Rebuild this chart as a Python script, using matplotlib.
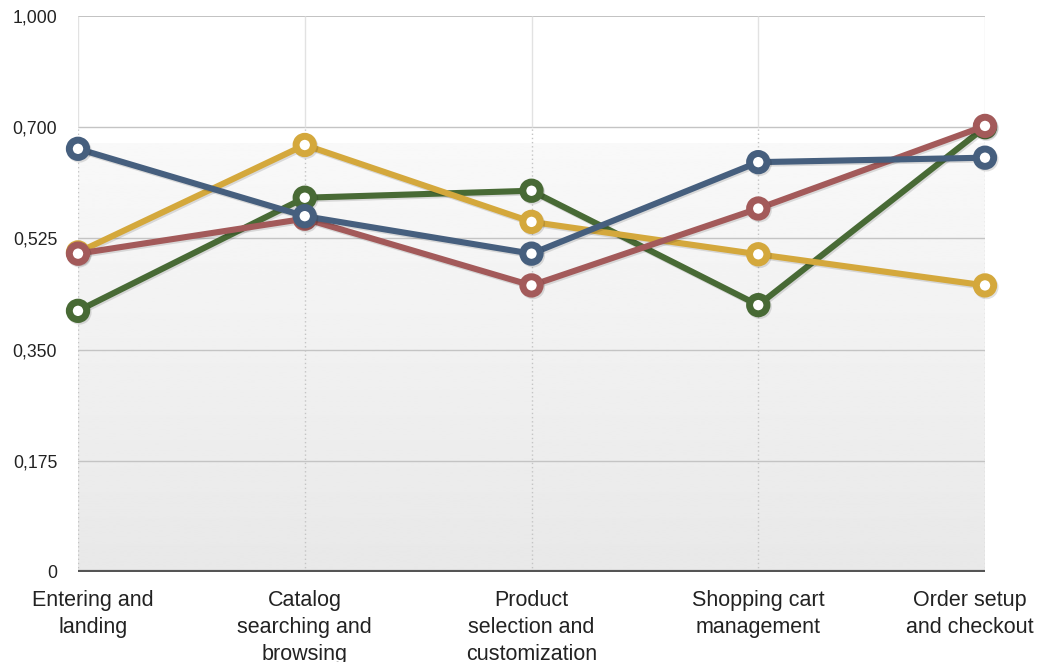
import matplotlib.pyplot as plt
import matplotlib.patheffects as pe
import matplotlib.transforms as mtransforms
import numpy as np

# categories and series values
stages = ['Entering and\nlanding', 'Catalog\nsearching and\nbrowsing',
          'Product\nselection and\ncustomization', 'Shopping cart\nmanagement',
          'Order setup\nand checkout']
green = [0.411, 0.589, 0.600, 0.420, 0.700]
yellow = [0.503, 0.672, 0.551, 0.500, 0.451]
red = [0.501, 0.556, 0.451, 0.572, 0.702]
blue = [0.666, 0.560, 0.501, 0.645, 0.652]

yticks = [0, 0.175, 0.350, 0.525, 0.700, 0.875]
ytick_labels = ['0', '0,175', '0,350', '0,525', '0,700', '1,000']

plt.rcParams['font.family'] = ['Liberation Sans', 'DejaVu Sans']

fig = plt.figure(figsize=(10.42, 6.62), dpi=100)
ax = fig.add_axes([78 / 1042, 1 - 572 / 662, (985 - 78) / 1042, (572 - 16) / 662])
x = np.arange(len(stages))
ax.set_xlim(0, len(stages) - 1)
ax.set_ylim(0, yticks[-1])

# background: white on top, soft grey gradient in the lower part
grad = np.linspace(0.91, 0.975, 256).reshape(-1, 1)
ax.imshow(grad, cmap='gray', vmin=0, vmax=1, aspect='auto', origin='lower',
          extent=(0, len(stages) - 1, 0, 0.675), zorder=0, interpolation='bilinear')

# grid
for yt in yticks[1:-1]:
    ax.axhline(yt, color='#c4c4c4', lw=1, zorder=1)
ax.axhline(yticks[-1], color='#b8b8b8', lw=1.2, zorder=1)
ax.vlines(x, yticks[-2], yticks[-1], color='#e2e2e2', lw=1, zorder=1)
ax.vlines(x, 0, yticks[-2], color='#c4c4c4', lw=1, linestyles=(0, (1, 2)), zorder=1)

for s in ax.spines.values():
    s.set_visible(False)
ax.axhline(0, color='#555555', lw=3, zorder=2)

series = [(green, '#486a35'), (yellow, '#d4a83c'), (red, '#a35a5a'), (blue, '#465f7e')]
for i, (vals, col) in enumerate(series):
    ax.plot(x, vals, color=col, lw=4.4, marker='o', ms=12.5, mew=5,
            mfc='white', mec=col, clip_on=False, zorder=3 + i,
            path_effects=[pe.SimpleLineShadow(offset=(1, -1.2), alpha=0.12, shadow_color='black'),
                          pe.Normal()])

ax.set_yticks(yticks)
ax.set_yticklabels(ytick_labels, fontsize=12.7, color='#222222')
ax.tick_params(axis='y', length=0, pad=15)
ax.set_xticks([])

# category labels, nudged inwards at the ends like the original
trans = mtransforms.blended_transform_factory(ax.transData, ax.transAxes)
nudge = {0: 15, len(stages) - 1: -15}
for i, lab in enumerate(stages):
    off = mtransforms.ScaledTranslation(nudge.get(i, 0) / 100, -18 / 100, fig.dpi_scale_trans)
    ax.text(i, 0, lab, transform=trans + off, ha='center', va='top',
            fontsize=15.5, color='#222222', linespacing=1.38)

fig.savefig('out.png', dpi=100)
